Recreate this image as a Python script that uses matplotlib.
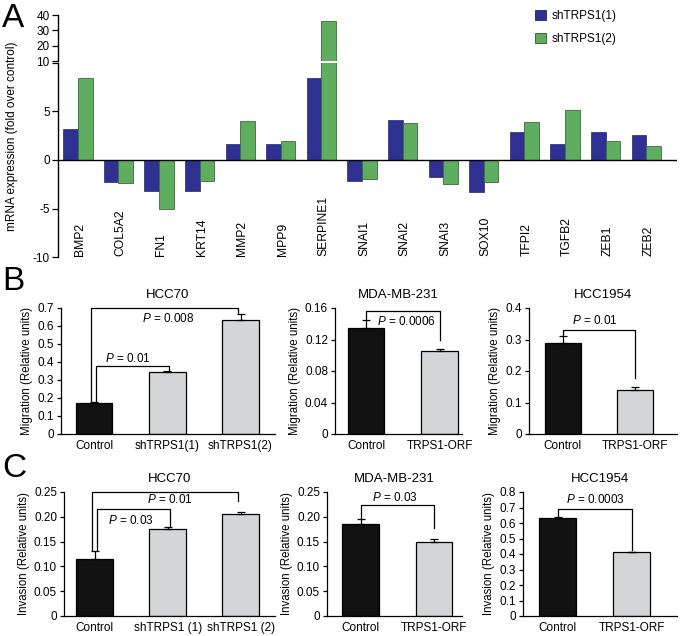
import numpy as np
import matplotlib.pyplot as plt
from matplotlib.patches import Patch

plt.rcParams['font.family'] = ['Liberation Sans', 'DejaVu Sans']
plt.rcParams['mathtext.fontset'] = 'custom'
plt.rcParams['mathtext.it'] = 'Liberation Sans:italic'
plt.rcParams['mathtext.rm'] = 'Liberation Sans'

# ---- panel A data ----
genes = ['BMP2', 'COL5A2', 'FN1', 'KRT14', 'MMP2', 'MPP9', 'SERPINE1', 'SNAI1',
         'SNAI2', 'SNAI3', 'SOX10', 'TFPI2', 'TGFB2', 'ZEB1', 'ZEB2']
sh1 = [3.2, -2.3, -3.2, -3.2, 1.6, 1.6, 8.5, -2.2, 4.1, -1.8, -3.3, 2.9, 1.7, 2.9, 2.6]
sh2 = [8.5, -2.4, -5.1, -2.2, 4.0, 2.0, 36.0, -2.0, 3.8, -2.5, -2.3, 3.9, 5.2, 2.0, 1.4]

# ---- panel B (migration) ----
mig_hcc70_labels = ['Control', 'shTRPS1(1)', 'shTRPS1(2)']
mig_hcc70 = [0.172, 0.342, 0.635]
mig_hcc70_err = [0.008, 0.01, 0.03]
orf_labels = ['Control', 'TRPS1-ORF']
mig_mda = [0.135, 0.105]
mig_mda_err = [0.01, 0.003]
mig_hcc1954 = [0.29, 0.14]
mig_hcc1954_err = [0.02, 0.009]

# ---- panel C (invasion) ----
inv_hcc70_labels = ['Control', 'shTRPS1 (1)', 'shTRPS1 (2)']
inv_hcc70 = [0.115, 0.175, 0.205]
inv_hcc70_err = [0.017, 0.005, 0.005]
inv_mda = [0.185, 0.149]
inv_mda_err = [0.01, 0.007]
inv_hcc1954 = [0.632, 0.41]
inv_hcc1954_err = [0.007, 0.005]

W, H = 680, 636
fig = plt.figure(figsize=(W / 100, H / 100), dpi=100)


def px_rect(left, top, right, bottom):
    return [left / W, 1 - bottom / H, (right - left) / W, (bottom - top) / H]


# ================= panel A =================
blue = '#2e3192'
green = '#5fae5f'
x = np.arange(len(genes))
ax_top = fig.add_axes(px_rect(58, 15, 677, 61))
ax_bot = fig.add_axes(px_rect(58, 63, 677, 257))
for ax in (ax_top, ax_bot):
    ax.bar(x - 0.18, sh1, width=0.36, color=blue, edgecolor='#23266e', linewidth=0.5)
    ax.bar(x + 0.18, sh2, width=0.36, color=green, edgecolor='#3d6b3d', linewidth=0.6)
    ax.set_xlim(-0.49, 14.76)
    for s in ('top', 'right', 'bottom'):
        ax.spines[s].set_visible(False)
    ax.spines['left'].set_linewidth(1)
    ax.tick_params(axis='x', length=0, labelbottom=False)
    ax.tick_params(axis='y', direction='out', length=4, width=0.9, labelsize=8.5, pad=2)

ax_top.set_ylim(10, 40)
ax_top.set_yticks([10, 20, 30, 40])
ax_bot.set_ylim(-10, 10)
ax_bot.set_yticks([-10, -5, 0, 5, 10])
ax_bot.set_yticklabels(['-10', '-5', '0', '5', ''])
ax_bot.axhline(0, color='black', linewidth=1)
for i, g in enumerate(genes):
    ax_bot.text(i + 0.05, -9.9, g, rotation=90, ha='center', va='bottom', fontsize=8.7)

fig.text(12 / W, 1 - 136 / H, 'mRNA expression (fold over control)', rotation=90,
         ha='center', va='center', fontsize=8.5)
fig.legend(handles=[Patch(facecolor=blue, edgecolor='#23266e', linewidth=0.6),
                    Patch(facecolor=green, edgecolor='#3d6b3d', linewidth=0.7)],
           labels=['shTRPS1(1)', 'shTRPS1(2)'], loc='upper left',
           bbox_to_anchor=(535 / W, 1 - 10 / H), frameon=False, fontsize=8.5,
           handlelength=0.95, handleheight=0.95, handletextpad=0.45,
           labelspacing=0.9, borderpad=0, borderaxespad=0)


# ================= panels B and C =================
def small_panel(rect, labels, vals, errs, xlim, yticks, yticklabels, title, ylabel, brackets):
    ax = fig.add_axes(rect)
    xs = np.arange(len(vals))
    colors = ['#111111'] + ['#d3d5d7'] * (len(vals) - 1)
    ax.bar(xs, vals, width=0.5, color=colors, edgecolor='black', linewidth=0.9,
           yerr=[np.zeros(len(vals)), errs], capsize=3,
           error_kw=dict(elinewidth=0.9, capthick=0.9, ecolor='black'), zorder=2)
    ax.set_xlim(*xlim)
    ax.set_ylim(yticks[0], yticks[-1])
    ax.set_yticks(yticks)
    ax.set_yticklabels(yticklabels)
    ax.set_xticks(xs)
    ax.set_xticklabels(labels)
    for s in ('top', 'right'):
        ax.spines[s].set_visible(False)
    ax.spines['left'].set_linewidth(0.9)
    ax.spines['bottom'].set_linewidth(0.9)
    ax.tick_params(axis='y', direction='out', length=3, width=0.9, labelsize=8.5, pad=2)
    ax.tick_params(axis='x', length=0, labelsize=8.5, pad=4)
    ax.set_title(title, fontsize=9.5, pad=7)
    ax.set_ylabel(ylabel, fontsize=8.3, labelpad=3)
    for i, j, y0, ytop, y1, dx, txt, tx, ty in brackets:
        ax.plot([i + dx, i + dx, j + dx, j + dx], [y0, ytop, ytop, y1], color='black',
                linewidth=0.9, clip_on=False, zorder=3)
        ax.text(tx, ty, txt, ha='center', va='center', fontsize=8.5)
    return ax


P = r'$\it{P}$'
mig_lab = 'Migration (Relative units)'
inv_lab = 'Invasion (Relative units)'

small_panel(px_rect(61, 308, 275, 434), mig_hcc70_labels, mig_hcc70, mig_hcc70_err,
            (-0.45, 2.47), [0, 0.1, 0.2, 0.3, 0.4, 0.5, 0.6, 0.7],
            ['0', '0.1', '0.2', '0.3', '0.4', '0.5', '0.6', '0.7'], 'HCC70', mig_lab,
            [(0, 1, 0.185, 0.38, 0.352, 0.03, P + ' = 0.01', 0.46, 0.42),
             (0, 2, 0.185, 0.70, 0.67, -0.04, P + ' = 0.008', 1.01, 0.64)])
small_panel(px_rect(335, 308, 462, 434), orf_labels, mig_mda, mig_mda_err,
            (-0.42, 1.30), [0, 0.04, 0.08, 0.12, 0.16],
            ['0', '0.04', '0.08', '0.12', '0.16'], 'MDA-MB-231', mig_lab,
            [(0, 1, 0.146, 0.156, 0.12, 0, P + ' = 0.0006', 0.54, 0.143)])
small_panel(px_rect(529, 308, 677, 434), orf_labels, mig_hcc1954, mig_hcc1954_err,
            (-0.47, 1.58), [0, 0.1, 0.2, 0.3, 0.4],
            ['0', '0.1', '0.2', '0.3', '0.4'], 'HCC1954', mig_lab,
            [(0, 1, 0.31, 0.33, 0.178, 0, P + ' = 0.01', 0.44, 0.36)])

small_panel(px_rect(64, 492, 275, 616), inv_hcc70_labels, inv_hcc70, inv_hcc70_err,
            (-0.42, 2.47), [0, 0.05, 0.10, 0.15, 0.20, 0.25],
            ['0', '0.05', '0.10', '0.15', '0.20', '0.25'], 'HCC70', inv_lab,
            [(0, 1, 0.133, 0.216, 0.181, 0.03, P + ' = 0.03', 0.5, 0.193),
             (0, 2, 0.133, 0.25, 0.232, -0.03, P + ' = 0.01', 1.03, 0.234)])
small_panel(px_rect(327, 492, 462, 616), orf_labels, inv_mda, inv_mda_err,
            (-0.46, 1.38), [0, 0.05, 0.10, 0.15, 0.20, 0.25],
            ['0', '0.05', '0.10', '0.15', '0.20', '0.25'], 'MDA-MB-231', inv_lab,
            [(0, 1, 0.196, 0.224, 0.177, 0, P + ' = 0.03', 0.47, 0.238)])
small_panel(px_rect(523, 492, 677, 616), orf_labels, inv_hcc1954, inv_hcc1954_err,
            (-0.47, 1.61), [0, 0.1, 0.2, 0.3, 0.4, 0.5, 0.6, 0.7, 0.8],
            ['0', '0.1', '0.2', '0.3', '0.4', '0.5', '0.6', '0.7', '0.8'], 'HCC1954', inv_lab,
            [(0, 1, 0.64, 0.69, 0.425, 0, P + ' = 0.0003', 0.51, 0.75)])

# panel letters
fig.text(2 / W, 1 - 27 / H, 'A', fontsize=24, va='baseline')
fig.text(2 / W, 1 - 290 / H, 'B', fontsize=24, va='baseline')
fig.text(2 / W, 1 - 477 / H, 'C', fontsize=24, va='baseline')

fig.savefig('out.png', dpi=100)
